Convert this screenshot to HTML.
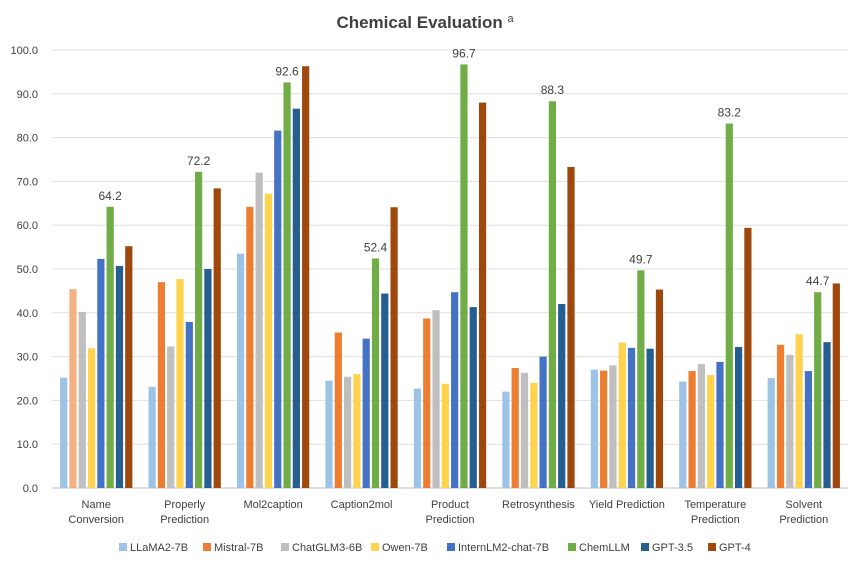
<!DOCTYPE html>
<html><head><meta charset="utf-8"><style>
body{margin:0;background:#fff;font-family:"Liberation Sans",sans-serif;}
svg text{font-family:"Liberation Sans",sans-serif;}
</style></head><body>
<svg id="chart" width="863" height="566">
<text x="425" y="28" text-anchor="middle" font-size="17" font-weight="bold" fill="#404040">Chemical Evaluation <tspan font-size="11" font-weight="normal" dy="-6">a</tspan></text>
<g id="grid"></g><g id="bars"></g><g id="labels"></g><g id="legend"></g>
</svg>
<script>
const categories=["Name\nConversion","Properly\nPrediction","Mol2caption","Caption2mol","Product\nPrediction","Retrosynthesis","Yield Prediction","Temperature\nPrediction","Solvent\nPrediction"];
const seriesNames=["LLaMA2-7B","Mistral-7B","ChatGLM3-6B","Owen-7B","InternLM2-chat-7B","ChemLLM","GPT-3.5","GPT-4"];
const llama=[25.2,23.1,53.5,24.5,22.7,22.0,27.0,24.3,25.1];
const mistral=[45.4,47.0,64.2,35.5,38.7,27.4,26.8,26.7,32.7];
const chatglm=[40.2,32.3,72.0,25.4,40.6,26.3,28.0,28.3,30.4];
const qwen=[31.9,47.7,67.2,26.0,23.8,24.0,33.2,25.8,35.1];
const internlm=[52.3,37.9,81.6,34.1,44.7,30.0,32.0,28.8,26.7];
const chemllm=[64.2,72.2,92.6,52.4,96.7,88.3,49.7,83.2,44.7];
const gpt35=[50.7,50.0,86.6,44.4,41.3,42.0,31.8,32.2,33.3];
const gpt4=[55.2,68.4,96.3,64.1,88.0,73.3,45.3,59.4,46.7];
const yTicks=[0,10,20,30,40,50,60,70,80,90,100];
const series=[llama,mistral,chatglm,qwen,internlm,chemllm,gpt35,gpt4];
const colors=["#9dc3e6","#ed7d31","#bfbfbf","#ffd34d","#4472c4","#70ad47","#255e91","#9e480e"];
const NS="http://www.w3.org/2000/svg";
const x0=52,x1=848,y0=488,yTop=50;
const y=v=>y0-(v/100)*(y0-yTop);
const gw=(x1-x0)/categories.length;
const xg=i=>x0+gw*i;
function mk(t,a,p){const e=document.createElementNS(NS,t);for(const k in a)e.setAttribute(k,a[k]);p.appendChild(e);return e;}
const grid=document.getElementById('grid'),bars=document.getElementById('bars'),labels=document.getElementById('labels'),legend=document.getElementById('legend');
yTicks.forEach(t=>{
  const l=mk('line',{x1:x0,x2:x1,y1:y(t),y2:y(t),stroke:t===0?'#bfbfbf':'#e0e0e0','stroke-width':1},grid);
  
  
  const tx=mk('text',{x:38,y:y(t)+4,'text-anchor':'end','font-size':11,fill:'#404040'},grid);
  tx.textContent=t.toFixed(1);
  
  
});
const bw=7.2,step=9.3;
categories.forEach((c,i)=>{
  const start=xg(i)+gw/2-step*4+ (step-bw)/2;
  series.forEach((s,j)=>{
    const v=s[i];
    const r=mk('rect',{x:start+j*step,y:y(v),width:bw,height:y0-y(v),fill:(i===0&&j===1)?'#f4b183':colors[j]},bars);
    
    
    if(j===5){
      const t=mk('text',{x:start+j*step+bw/2,y:y(v)-7,'text-anchor':'middle','font-size':12,fill:'#404040'},labels);
      t.textContent=v.toFixed(1);
      
      
    }
  });
  const lines=c.split('\n');
  lines.forEach((ln,k)=>{
    const t=mk('text',{x:xg(i)+gw/2,y:508+k*15,'text-anchor':'middle','font-size':11,fill:'#404040'},labels);
    t.textContent=ln;
    
    
  });
});
const lx=[119,203,281,371,447,568,641,708];
seriesNames.forEach((n,j)=>{
  const g=mk('g',{},legend);
  
  
  mk('rect',{x:lx[j],y:543,width:8,height:8,fill:colors[j]},g);
  const t=mk('text',{x:lx[j]+11,y:551,'font-size':11,fill:'#404040'},g);
  t.textContent=n;
});
</script>
</body></html>
